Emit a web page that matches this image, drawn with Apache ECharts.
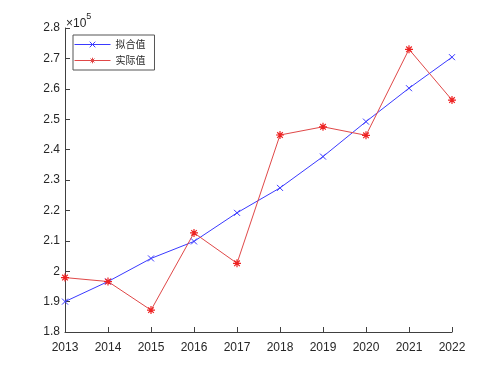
<!DOCTYPE html>
<html><head><meta charset="utf-8">
<script src="https://cdn.jsdelivr.net/npm/echarts@6/dist/echarts.min.js"></script>
<style>html,body{margin:0;padding:0;background:#fff}#c{width:500px;height:375px}</style>
</head><body><div id="c"></div>
<script>
const years = [2013, 2014, 2015, 2016, 2017, 2018, 2019, 2020, 2021, 2022];
const fitted = [190000, 196600, 204200, 209800, 219200, 227400, 237700, 249200, 260200, 270400];
const actual = [197900, 196600, 187200, 212600, 202600, 244800, 247500, 244700, 273000, 256300];
const seriesNames = ['拟合值', '实际值'];

const xPath = 'path://M0,0L10,10M10,0L0,10';
const starPath = 'path://M5,0L5,10M0,5L10,5M1.5,1.5L8.5,8.5M8.5,1.5L1.5,8.5';
const font = '"Liberation Sans", Arial, sans-serif';
const axisCol = '#404040';
const blue = '#3a3aff';
const red = '#e04848';

const chart = echarts.init(document.getElementById('c'), null, {renderer: 'canvas'});
chart.setOption({
  animation: false,
  backgroundColor: '#fff',
  grid: {left: 65, right: 48, top: 28, bottom: 43},
  xAxis: {
    type: 'value', min: 2013, max: 2022, interval: 1,
    axisLine: {show: true, lineStyle: {color: axisCol, width: 1}},
    axisTick: {show: true, inside: true, length: 5, lineStyle: {color: axisCol}},
    axisLabel: {formatter: v => String(v), color: '#262626', fontSize: 12, fontFamily: font, margin: 10},
    splitLine: {show: false}
  },
  yAxis: {
    type: 'value', min: 180000, max: 280000, interval: 10000,
    axisLine: {show: true, lineStyle: {color: axisCol, width: 1}},
    axisTick: {show: true, inside: true, length: 5, lineStyle: {color: axisCol}},
    axisLabel: {formatter: v => String(parseFloat((v / 1e5).toFixed(1))), color: '#262626', fontSize: 12, fontFamily: font, margin: 5},
    splitLine: {show: false}
  },
  legend: {
    orient: 'vertical', left: 73, top: 35,
    data: [
      {name: seriesNames[0], itemStyle: {color: 'rgba(0,0,0,0)', borderColor: blue, borderWidth: 1}, lineStyle: {color: blue, width: 1}},
      {name: seriesNames[1], itemStyle: {color: 'rgba(0,0,0,0)', borderColor: red, borderWidth: 1}, lineStyle: {color: red, width: 1}}
    ],
    itemWidth: 36, itemHeight: 7, itemGap: 3,
    padding: [3, 9, 3, 1],
    borderColor: '#555', borderWidth: 1, backgroundColor: '#fff',
    textStyle: {fontSize: 10, lineHeight: 13, color: '#262626', fontFamily: '"Noto Sans CJK SC", sans-serif'}
  },
  graphic: [{
    type: 'text', left: 66, top: 12,
    style: {
      text: '{a|×10}{b|5}',
      rich: {
        a: {fontSize: 12, fill: '#262626', fontFamily: font, verticalAlign: 'bottom', padding: [6, 0, 0, 0]},
        b: {fontSize: 9, fill: '#262626', fontFamily: font, verticalAlign: 'top'}
      }
    }
  }],
  series: [{
    name: seriesNames[0], type: 'line',
    data: years.map((y, i) => [y, fitted[i]]),
    symbol: xPath, symbolSize: 6,
    lineStyle: {color: blue, width: 1},
    itemStyle: {color: 'rgba(0,0,0,0)', borderColor: blue, borderWidth: 1},
    emphasis: {disabled: true}
  }, {
    name: seriesNames[1], type: 'line',
    data: years.map((y, i) => [y, actual[i]]),
    symbol: starPath, symbolSize: 8,
    lineStyle: {color: red, width: 1},
    itemStyle: {color: 'rgba(0,0,0,0)', borderColor: '#ee2222', borderWidth: 1.2},
    emphasis: {disabled: true}
  }]
});
</script></body></html>
